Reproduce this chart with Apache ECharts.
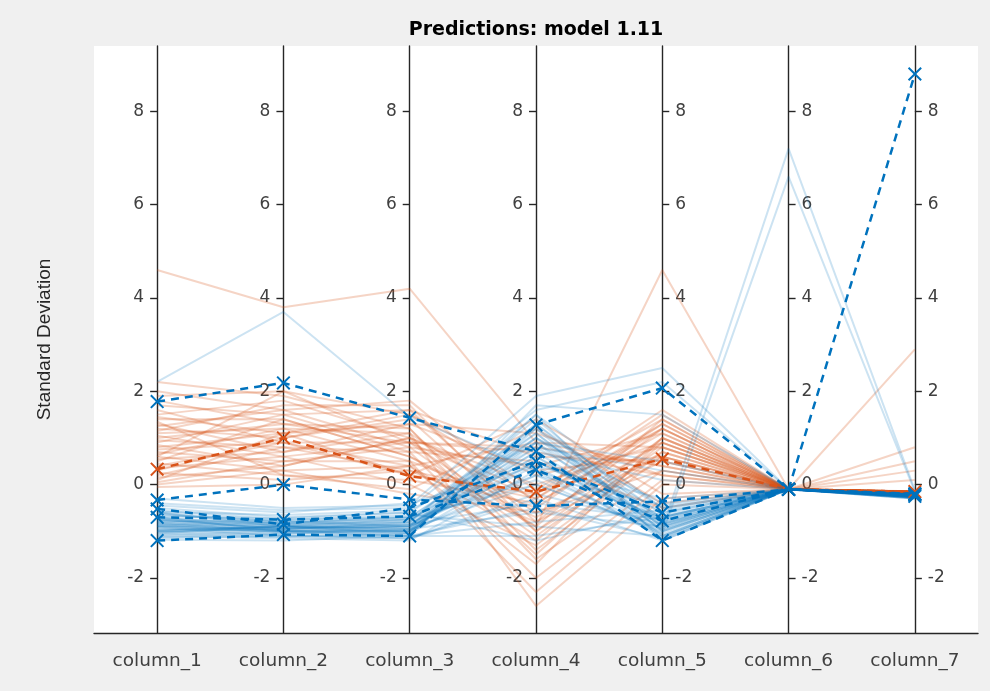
<!DOCTYPE html>
<html>
<head>
<meta charset="utf-8">
<script src="https://cdn.jsdelivr.net/npm/echarts@6/dist/echarts.min.js"></script>
<style>
  html, body { margin: 0; padding: 0; background: #f0f0f0; }
  #chart { width: 990px; height: 691px; }
</style>
</head>
<body>
<div id="chart"></div>
<script>
// Parallel-coordinates view of standardized predictor columns, two classes.
const columns = ['column_1', 'column_2', 'column_3', 'column_4', 'column_5', 'column_6', 'column_7'];
const tickValues = [-2, 0, 2, 4, 6, 8];
const titleText = 'Predictions: model 1.11';
const yTitle = 'Standard Deviation';

// Class 2 observations (orange)
const orangeRows = [
  [4.6, 3.8, 4.2, 0.9, 0.4, -0.1, -0.15],
  [2.2, 1.9, 1.2, -1.6, 0.3, -0.1, -0.18],
  [2.0, 1.6, 1.8, -0.4, 1.2, -0.1, -0.16],
  [1.9, 2.0, 1.5, 0.2, 0.8, -0.1, -0.2],
  [1.8, 1.3, 0.9, -0.9, 1.4, -0.1, -0.14],
  [1.7, 1.5, 1.6, 0.6, 0.5, -0.1, -0.17],
  [1.6, 0.9, 0.4, -1.2, 1.0, -0.1, -0.15],
  [1.5, 1.8, 1.0, -0.2, 1.6, -0.1, 0.8],
  [1.45, 1.1, 1.3, 1.1, 0.2, -0.1, -0.16],
  [1.4, 1.4, 0.6, -0.7, 0.9, -0.1, -0.18],
  [1.3, 0.7, 1.1, -2.6, -0.3, -0.1, -0.15],
  [1.25, 1.6, 0.8, 0.4, 1.1, -0.1, -0.2],
  [1.2, 1.0, 1.4, -1.0, 0.7, -0.1, 0.3],
  [1.1, 1.2, 0.5, -0.5, 1.3, -0.1, -0.16],
  [1.05, 0.6, 0.9, 0.8, 0.4, -0.1, -0.15],
  [1.0, 1.3, 1.2, -1.4, 0.6, -0.1, -0.18],
  [0.95, 0.8, 0.3, -0.3, 1.5, -0.1, -0.17],
  [0.9, 1.5, 0.7, -2.0, 0.1, -0.1, -0.15],
  [0.85, 0.4, 1.0, 0.0, 0.9, -0.1, 2.9],
  [0.8, 1.1, 1.6, -0.8, 1.2, -0.1, -0.2],
  [0.75, 0.9, 0.2, 1.4, -0.2, -0.1, -0.16],
  [0.7, 0.5, 0.8, -1.1, 0.8, -0.1, -0.15],
  [0.65, 1.2, 1.1, -0.6, 0.3, -0.1, 0.5],
  [0.6, 0.3, 0.4, -1.7, 1.0, -0.1, -0.18],
  [0.55, 0.7, 1.3, 0.3, 0.6, -0.1, -0.16],
  [0.5, 1.4, 0.6, -0.9, 4.6, -0.1, -0.15],
  [0.45, 0.2, 0.1, -0.4, 1.1, -0.1, -0.2],
  [0.4, 0.9, 0.9, 0.7, 0.2, -0.1, -0.17],
  [0.35, 0.6, 0.0, -1.3, 0.7, -0.1, -0.15],
  [0.3, 1.0, 1.5, -0.1, 1.4, -0.1, 0.1],
  [0.25, 0.1, 0.3, -0.8, 0.5, -0.1, -0.16],
  [0.2, 0.8, 0.7, 0.5, -0.5, -0.1, -0.18],
  [0.15, 0.4, 1.0, -1.5, 0.9, -0.1, -0.15],
  [0.1, 1.1, 0.2, -0.2, 1.2, -0.1, -0.2],
  [0.05, 0.5, 0.5, -2.3, 0.0, -0.1, -0.16],
  [0.0, 0.3, -0.2, -0.6, 0.6, -0.1, -0.15],
  [-0.05, 0.0, 0.4, 0.9, 0.8, -0.1, -0.17],
  [1.15, 1.7, 1.7, -1.0, 1.0, -0.1, -0.15],
  [0.6, 2.0, 0.9, -0.3, 1.3, -0.1, -0.2],
  [1.35, 0.2, -0.1, 1.2, -0.4, -0.1, -0.16]
];

// Class 1 observations (blue)
const blueRows = [
  [2.2, 3.7, 1.45, 0.3, -0.7, -0.1, -0.22],
  [-0.3, -0.5, -0.45, 1.9, 2.5, -0.1, -0.25],
  [-0.4, -0.55, -0.5, 1.6, 2.2, -0.1, -0.2],
  [-0.9, -1.0, -1.0, 0.2, -0.95, 7.2, -0.12],
  [-1.0, -0.9, -0.85, 0.6, -1.05, 6.6, -0.15],
  [-0.5, -0.7, -0.6, 1.2, -0.5, -0.1, -0.25],
  [-0.55, -0.75, -0.7, 1.0, -0.6, -0.1, -0.22],
  [-0.6, -0.8, -0.75, 0.8, -0.7, -0.1, -0.28],
  [-0.62, -0.85, -0.8, 1.4, -0.8, -0.1, -0.2],
  [-0.65, -0.78, -0.9, 0.5, -0.85, -0.1, -0.26],
  [-0.7, -0.9, -0.95, 1.1, -0.9, -0.1, -0.24],
  [-0.72, -0.82, -0.7, 0.0, -1.0, -0.1, -0.3],
  [-0.75, -0.95, -1.0, 0.9, -1.1, -0.1, -0.22],
  [-0.78, -0.88, -0.85, -0.4, -0.75, -0.1, -0.27],
  [-0.8, -1.0, -1.05, 1.3, -0.65, -0.1, -0.25],
  [-0.82, -0.92, -0.9, 0.4, -1.15, -0.1, -0.2],
  [-0.85, -0.98, -1.1, -0.8, -0.55, -0.1, -0.28],
  [-0.88, -1.05, -0.95, 0.7, -0.95, -0.1, -0.23],
  [-0.9, -0.85, -0.8, 1.5, -1.2, -0.1, -0.26],
  [-0.92, -1.1, -1.15, -0.2, -0.85, -0.1, -0.22],
  [-0.95, -1.0, -1.0, 1.0, -0.4, -0.1, -0.3],
  [-0.98, -0.9, -0.75, 0.1, -1.05, -0.1, -0.24],
  [-1.0, -1.08, -1.1, -1.1, -0.7, -0.1, -0.2],
  [-1.02, -0.95, -0.9, 0.6, -0.8, -0.1, -0.27],
  [-1.05, -1.12, -1.05, 1.2, -1.0, -0.1, -0.25],
  [-1.08, -1.0, -0.95, -0.6, -0.9, -0.1, -0.22],
  [-1.1, -1.15, -1.2, 0.3, -1.1, -0.1, -0.28],
  [-1.12, -1.05, -1.0, 0.8, 0.3, -0.1, -0.2],
  [-1.15, -1.1, -1.15, -0.3, -1.2, -0.1, -0.26],
  [-1.18, -1.2, -1.1, 1.7, 1.5, -0.1, -0.23],
  [-0.68, -0.72, -0.6, -1.2, -0.6, -0.1, -0.25],
  [-0.58, -0.65, -0.55, 0.9, 0.5, -0.1, -0.22],
  [-0.74, -0.95, -0.8, 0.2, -0.45, -0.1, -0.3],
  [-0.86, -0.8, -0.7, 1.1, -1.0, -0.1, -0.2],
  [-0.96, -0.9, -1.05, 0.5, -0.75, -0.1, -0.26],
  [-0.8, -0.76, -0.65, -0.9, -1.1, -0.1, -0.24],
  [-0.7, -1.0, -0.9, 1.3, -0.85, -0.1, -0.22],
  [-0.9, -0.95, -0.85, 0.7, 0.1, -0.1, -0.28],
  [-1.05, -0.88, -0.95, 0.0, -0.95, -0.1, -0.25],
  [-0.45, -0.6, -0.4, 0.4, -0.3, -0.1, -0.2],
  [-0.6, -0.9, -1.0, 1.5, -0.5, -0.1, -0.27],
  [-0.84, -1.02, -1.1, -0.5, -1.15, -0.1, -0.23],
  [-0.76, -0.84, -0.75, 0.9, -0.7, -0.1, -0.25],
  [-1.0, -0.94, -0.88, 1.0, -0.9, -0.1, -0.22]
];

// Highlighted profiles drawn dashed with cross markers
const orangeHighlight = [
  [0.33, 1.0, 0.18, -0.15, 0.55, -0.1, -0.15]
];
const blueHighlight = [
  [1.78, 2.18, 1.43, 0.71, -1.2, -0.1, -0.2],
  [-0.33, 0.0, -0.32, -0.46, -0.36, -0.1, -0.22],
  [-0.52, -0.85, -0.5, 0.5, -0.6, -0.1, -0.2],
  [-0.7, -0.75, -0.68, 0.32, -0.78, -0.1, -0.25],
  [-1.2, -1.07, -1.1, 1.28, 2.07, -0.1, 8.8]
];

const BLUE = '#0072bd';
const ORANGE = '#d95319';
const INK = '#262626';
const LABEL = '#404040';
const WIDE = 'DejaVu Sans, Verdana, sans-serif';
const FONT = 'Liberation Sans, Arial, sans-serif';

const gridLeft = 94, gridRight = 12, gridTop = 46, gridBottom = 58;
const chartW = 990;
const plotRight = chartW - gridRight;
const band = (plotRight - gridLeft) / columns.length;
const yMin = -3.18, yMax = 9.4;

const crossPath = 'path://M0,1L1,0L5,4L9,0L10,1L6,5L10,9L9,10L5,6L1,10L0,9L4,5Z';

// One vertical value axis per column; first four label to the left, rest to the right
const yAxes = columns.map((c, i) => {
  const cx = gridLeft + band * (i + 0.5);
  const onLeft = i < 4;
  const ax = {
    type: 'value',
    min: yMin,
    max: yMax,
    position: onLeft ? 'left' : 'right',
    offset: onLeft ? gridLeft - cx : cx - plotRight,
    axisLine: { show: true, lineStyle: { color: INK, width: 1.4 } },
    axisTick: { show: true, length: 7, lineStyle: { color: INK, width: 1.4 }, customValues: tickValues },
    axisLabel: {
      show: true, color: LABEL, fontSize: 17, margin: 13,
      fontFamily: WIDE,
      customValues: tickValues
    },
    splitLine: { show: false }
  };
  if (i === 0) {
    ax.name = yTitle;
    ax.nameLocation = 'middle';
    ax.nameGap = cx - 54;
    ax.nameTextStyle = { color: INK, fontSize: 19, fontFamily: FONT };
  }
  return ax;
});

const series = [];
orangeRows.forEach(r => series.push({
  type: 'line', data: r, symbol: 'none', silent: true,
  lineStyle: { color: ORANGE, width: 2, opacity: 0.25 }
}));
blueRows.forEach(r => series.push({
  type: 'line', data: r, symbol: 'none', silent: true,
  lineStyle: { color: BLUE, width: 2, opacity: 0.2 }
}));
orangeHighlight.forEach(r => series.push({
  type: 'line', data: r, symbol: crossPath, symbolSize: 14, silent: true,
  itemStyle: { color: ORANGE },
  lineStyle: { color: ORANGE, width: 2.5, type: [8, 6] }
}));
blueHighlight.forEach(r => series.push({
  type: 'line', data: r, symbol: crossPath, symbolSize: 14, silent: true,
  itemStyle: { color: BLUE },
  lineStyle: { color: BLUE, width: 2.5, type: [8, 6] }
}));

const chart = echarts.init(document.getElementById('chart'), null, { renderer: 'canvas' });
chart.setOption({
  animation: false,
  backgroundColor: '#f0f0f0',
  graphic: [{
    type: 'text', x: (gridLeft + plotRight) / 2, y: 30,
    style: {
      text: titleText, fill: '#000', font: 'bold 19px ' + WIDE,
      align: 'center', verticalAlign: 'middle'
    }
  }],
  grid: {
    left: gridLeft, right: gridRight, top: gridTop, bottom: gridBottom,
    show: true, backgroundColor: '#ffffff', borderWidth: 0
  },
  xAxis: {
    type: 'category', data: columns, boundaryGap: true,
    axisLine: { onZero: false, lineStyle: { color: INK, width: 1.4 } },
    axisTick: { show: false },
    axisLabel: { color: LABEL, fontSize: 18.5, margin: 19, fontFamily: WIDE },
    splitLine: { show: false }
  },
  yAxis: yAxes,
  series: series
});
</script>
</body>
</html>
